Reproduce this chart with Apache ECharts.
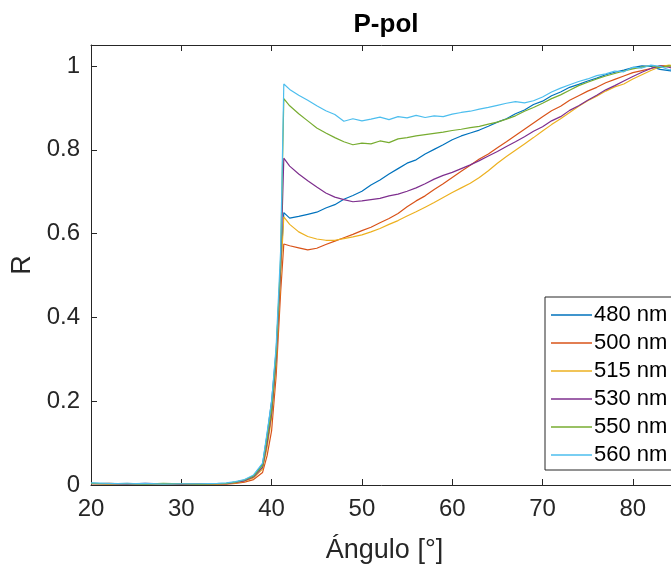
<!DOCTYPE html>
<html>
<head>
<meta charset="utf-8">
<script src="https://cdn.jsdelivr.net/npm/echarts@6/dist/echarts.min.js"></script>
<style>
  html, body { margin: 0; padding: 0; background: #fff; }
  #chart { width: 671px; height: 570px; }
</style>
</head>
<body>
<div id="chart"></div>
<script>
// angulo de incidencia (grados)
var angles = [20, 22, 24, 26, 28, 30, 32, 34, 35, 36, 37, 38, 39, 39.5, 40, 40.5, 41, 41.35,
  42, 43, 44, 45, 46, 47, 48, 49, 50, 51, 52, 53, 54, 55, 56, 57, 58, 59, 60, 61, 62, 63,
  64, 65, 66, 67, 68, 69, 70, 71, 72, 73, 74, 75, 76, 77, 78, 79, 80, 81, 82, 83, 84, 85];

var r480 = [0.004, 0.003, 0.004, 0.002, 0.003, 0.003, 0.002, 0.003, 0.004, 0.007, 0.012, 0.022, 0.05, 0.12, 0.2, 0.32, 0.52, 0.65,
  0.637, 0.641, 0.646, 0.651, 0.661, 0.669, 0.682, 0.691, 0.701, 0.716, 0.728, 0.742, 0.755, 0.768, 0.776, 0.79, 0.801, 0.812, 0.824, 0.833, 0.84, 0.847,
  0.856, 0.866, 0.874, 0.886, 0.895, 0.908, 0.916, 0.929, 0.938, 0.949, 0.956, 0.964, 0.971, 0.979, 0.985, 0.99, 0.996, 1.0, 0.999, 0.992, 0.989, 0.986];
var r500 = [0.003, 0.004, 0.002, 0.003, 0.002, 0.003, 0.002, 0.002, 0.002, 0.004, 0.007, 0.013, 0.03, 0.07, 0.13, 0.26, 0.46, 0.575,
  0.571, 0.566, 0.561, 0.565, 0.574, 0.582, 0.59, 0.598, 0.607, 0.615, 0.626, 0.636, 0.648, 0.664, 0.678, 0.69, 0.705, 0.719, 0.734, 0.749, 0.763, 0.778,
  0.79, 0.805, 0.819, 0.834, 0.849, 0.864, 0.879, 0.893, 0.904, 0.918, 0.929, 0.94, 0.949, 0.96, 0.968, 0.976, 0.984, 0.989, 0.994, 1.0, 1.001, 0.996];
var r515 = [0.003, 0.002, 0.003, 0.003, 0.002, 0.002, 0.003, 0.002, 0.003, 0.005, 0.009, 0.017, 0.038, 0.09, 0.16, 0.29, 0.5, 0.64,
  0.622, 0.604, 0.593, 0.587, 0.584, 0.584, 0.588, 0.592, 0.597, 0.604, 0.612, 0.622, 0.631, 0.642, 0.652, 0.663, 0.674, 0.686, 0.698, 0.709, 0.72, 0.734,
  0.75, 0.768, 0.784, 0.799, 0.814, 0.829, 0.845, 0.86, 0.874, 0.889, 0.904, 0.917, 0.928, 0.94, 0.95, 0.957, 0.969, 0.979, 0.989, 0.998, 1.002, 1.0];
var r530 = [0.003, 0.003, 0.002, 0.004, 0.003, 0.002, 0.003, 0.003, 0.003, 0.006, 0.01, 0.019, 0.042, 0.1, 0.17, 0.3, 0.52, 0.78,
  0.761, 0.742, 0.726, 0.711, 0.697, 0.687, 0.681, 0.676, 0.678, 0.681, 0.684, 0.69, 0.694, 0.701, 0.709, 0.719, 0.73, 0.739, 0.746, 0.755, 0.764, 0.774,
  0.785, 0.796, 0.808, 0.819, 0.831, 0.844, 0.855, 0.869, 0.879, 0.894, 0.905, 0.918, 0.93, 0.943, 0.953, 0.964, 0.975, 0.985, 0.994, 1.0, 0.997, 0.99];
var r550 = [0.004, 0.003, 0.003, 0.002, 0.004, 0.003, 0.002, 0.003, 0.004, 0.007, 0.012, 0.021, 0.046, 0.11, 0.18, 0.31, 0.54, 0.922,
  0.905, 0.886, 0.869, 0.852, 0.84, 0.829, 0.819, 0.812, 0.816, 0.814, 0.821, 0.817, 0.826, 0.829, 0.833, 0.836, 0.839, 0.842, 0.846, 0.849, 0.853, 0.856,
  0.861, 0.866, 0.873, 0.881, 0.892, 0.901, 0.911, 0.922, 0.931, 0.942, 0.953, 0.961, 0.969, 0.976, 0.982, 0.988, 0.993, 0.997, 1.001, 0.996, 1.0, 0.997];
var r560 = [0.005, 0.004, 0.003, 0.004, 0.002, 0.003, 0.003, 0.004, 0.005, 0.008, 0.013, 0.024, 0.052, 0.125, 0.2, 0.33, 0.56, 0.957,
  0.944, 0.93, 0.918, 0.905, 0.893, 0.884, 0.868, 0.874, 0.869, 0.873, 0.878, 0.872, 0.879, 0.876, 0.882, 0.877, 0.881, 0.879, 0.885, 0.889, 0.892, 0.897,
  0.901, 0.906, 0.911, 0.915, 0.912, 0.917, 0.926, 0.938, 0.947, 0.955, 0.963, 0.969, 0.977, 0.981, 0.988, 0.986, 0.997, 0.995, 1.002, 0.999, 0.991, 0.993];

var names = ['480 nm', '500 nm', '515 nm', '530 nm', '550 nm', '560 nm'];
var colors = ['#0072BD', '#D95319', '#EDB120', '#7E2F8E', '#77AC30', '#4DBEEE'];
var curves = [r480, r500, r515, r530, r550, r560];

var font = '"Liberation Sans", Arial, Helvetica, sans-serif';
var ink = '#262626';

var myChart = echarts.init(document.getElementById('chart'));

var series = curves.map(function (vals, k) {
  return {
    name: names[k],
    type: 'line',
    symbol: 'none',
    xAxisIndex: 0,
    lineStyle: { width: 1.2, color: colors[k] },
    itemStyle: { color: colors[k] },
    data: angles.map(function (a, i) { return [a, vals[i]]; })
  };
});

var option = {
  backgroundColor: '#ffffff',
  animation: false,
  title: {
    text: 'P-pol',
    left: 381,
    top: 7,
    textAlign: 'center',
    textStyle: { fontFamily: font, fontSize: 26, fontWeight: 'bold', color: '#000' }
  },
  // el recuadro sigue a la derecha fuera de la imagen (recortada en x ~ 84)
  grid: { left: 91, top: 45, bottom: 85, width: 587, containLabel: false, outerBoundsMode: 'none' },
  legend: {
    orient: 'vertical',
    left: 545,
    top: 297,
    icon: 'rect',
    itemWidth: 41,
    itemHeight: 1.5,
    itemGap: 6,
    padding: [7, 40, 4, 6],
    borderColor: ink,
    borderWidth: 1,
    backgroundColor: '#fff',
    textStyle: { fontFamily: font, fontSize: 22, color: '#000', padding: [0, 0, 0, -3] },
    data: names
  },
  xAxis: [{
    type: 'value',
    min: 20,
    max: 85,
    interval: 10,
    name: 'Ángulo [°]',
    nameLocation: 'middle',
    nameGap: 52,
    nameTextStyle: { fontFamily: font, fontSize: 27, color: ink },
    splitLine: { show: false },
    axisLine: { lineStyle: { color: ink, width: 1 } },
    axisTick: { inside: true, length: 6, lineStyle: { color: ink } },
    axisLabel: { fontFamily: font, fontSize: 24, color: ink, margin: 12, showMaxLabel: false }
  }, {
    type: 'value',
    position: 'top',
    min: 20,
    max: 85,
    interval: 10,
    splitLine: { show: false },
    axisLine: { lineStyle: { color: ink, width: 1 } },
    axisTick: { inside: true, length: 6, lineStyle: { color: ink } },
    axisLabel: { show: false }
  }],
  yAxis: {
    type: 'value',
    min: 0,
    max: 1.05,
    interval: 0.2,
    name: 'R',
    nameLocation: 'middle',
    nameGap: 48,
    nameTextStyle: { fontFamily: font, fontSize: 27, color: ink },
    splitLine: { show: false },
    axisLine: { show: true, lineStyle: { color: ink, width: 1 } },
    axisTick: { show: true, inside: true, length: 6, lineStyle: { color: ink } },
    axisLabel: { fontFamily: font, fontSize: 24, color: ink, margin: 11, showMaxLabel: false }
  },
  series: series
};

myChart.setOption(option);
window.addEventListener('resize', function () { myChart.resize(); });
</script>
</body>
</html>
